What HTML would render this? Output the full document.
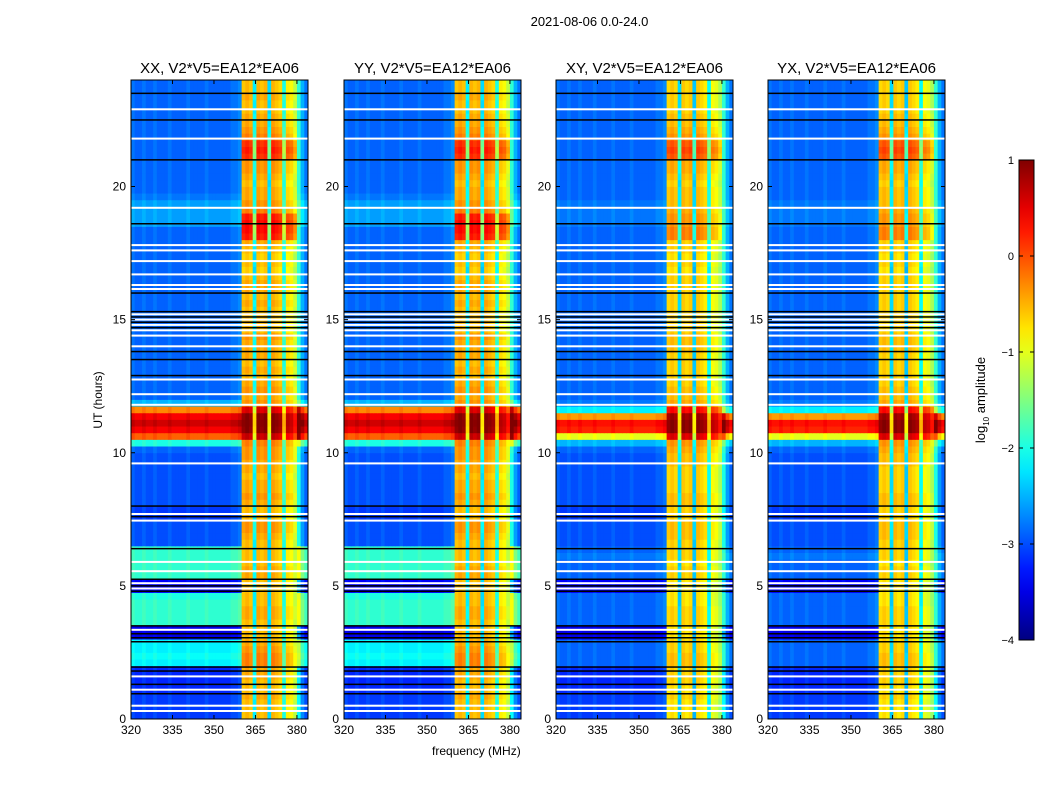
<!DOCTYPE html>
<html><head><meta charset="utf-8">
<style>
body{margin:0;background:#fff;font-family:"Liberation Sans",sans-serif;}
#wrap{position:relative;width:1050px;height:800px;overflow:hidden;}
</style></head>
<body>
<div id="wrap">
<svg id="svg" width="1050" height="800" style="position:absolute;left:0;top:0"></svg>
</div>
<script>
// ---- data ----
const panelTitles = ["XX, V2*V5=EA12*EA06","YY, V2*V5=EA12*EA06","XY, V2*V5=EA12*EA06","YX, V2*V5=EA12*EA06"];
const xTicks = [320,335,350,365,380];
const yTicks = [0,5,10,15,20];
const cbTicks = [1,0,-1,-2,-3,-4];
// background log amplitude per 0.25 h row (parallel hands)
const rowBgPar = [-3.1,-3.1,-3.1,-3.1,-3.2,-3.2,-3.2,-3.2,-2.2,-2.1,-2.2,-2.2,-3.5,-3.5,-1.9,-1.9,-1.9,-1.9,-2.0,-3.4,-3.4,-1.9,-1.9,-1.9,-1.9,-1.9,-3.0,-3.0,-3.0,-3.0,-3.1,-3.1,
-3.0,-3.0,-3.0,-3.0,-3.0,-3.0,-3.0,-3.0,-2.9,-2.0,-0.1,0.4,0.6,0.4,-0.3,-2.5,-2.9,-2.9,-2.9,-2.9,-2.9,-2.9,-2.9,-2.9,-2.9,-2.9,-2.9,-2.9,
-2.9,-2.9,-2.9,-2.9,-2.9,-2.9,-2.9,-2.9,-2.9,-2.9,-2.9,-2.9,-2.9,-2.9,-2.6,-2.6,-2.6,-2.6,-2.8,-2.9,-2.9,-2.9,-2.9,-2.9,-2.9,-2.9,-2.9,-2.9,-2.9,-2.9,-2.9,-2.9,-2.9,-2.9,-2.9,-2.9];
// background per row (cross hands)
const rowBgCross = [-3.1,-3.1,-3.1,-3.1,-3.2,-3.2,-3.2,-3.2,-2.9,-2.9,-2.9,-2.9,-3.5,-3.5,-2.9,-2.9,-2.9,-2.9,-2.9,-3.4,-3.4,-2.9,-2.9,-2.9,-2.8,-2.9,-3.0,-3.0,-3.0,-3.0,-3.1,-3.1,
-3.0,-3.0,-3.0,-3.0,-3.0,-3.0,-3.0,-3.0,-2.9,-2.5,-1.0,0.2,0.3,-0.4,-2.2,-2.8,-2.9,-2.9,-2.9,-2.9,-2.9,-2.9,-2.9,-2.9,-2.9,-2.9,-2.9,-2.9,
-2.9,-2.9,-2.9,-2.9,-2.9,-2.9,-2.9,-2.9,-2.9,-2.9,-2.9,-2.9,-2.9,-2.9,-2.8,-2.8,-2.8,-2.8,-2.9,-2.9,-2.9,-2.9,-2.9,-2.9,-2.9,-2.9,-2.9,-2.9,-2.9,-2.9,-2.9,-2.9,-2.9,-2.9,-2.9,-2.9];
// RFI band level per row
const rowRfiPar = [-0.6,-0.6,-0.6,-0.5,-0.6,-0.6,-0.5,-0.5,-0.3,-0.3,-0.4,-0.5,-0.6,-0.6,-0.6,-0.5,-0.5,-0.6,-0.6,-0.6,-0.6,-0.5,-0.5,-0.6,-0.6,-0.6,-0.6,-0.5,-0.4,-0.4,-0.6,-0.6,
-0.5,-0.4,-0.5,-0.5,-0.6,-0.5,-0.5,-0.4,-0.4,-0.3,0.6,0.9,0.95,0.9,0.5,-0.4,-0.5,-0.4,-0.5,-0.6,-0.5,-0.6,-0.5,-0.5,-0.5,-0.4,-0.6,-0.6,
-0.6,-0.6,-0.5,-0.6,-0.5,-0.5,-0.6,-0.7,-0.6,-0.7,-0.6,-0.5,0.2,0.3,0.3,0.2,-0.3,-0.4,-0.5,-0.5,-0.6,-0.5,-0.4,-0.4,0.1,0.2,0.1,-0.3,-0.4,-0.5,-0.5,-0.6,-0.6,-0.5,-0.6,-0.6];
const rowRfiCross = [-0.8,-0.8,-0.8,-0.7,-0.8,-0.7,-0.7,-0.7,-0.6,-0.6,-0.7,-0.7,-0.8,-0.8,-0.7,-0.7,-0.7,-0.8,-0.8,-0.8,-0.8,-0.7,-0.7,-0.8,-0.7,-0.7,-0.7,-0.6,-0.6,-0.6,-0.7,-0.7,
-0.6,-0.6,-0.7,-0.7,-0.7,-0.7,-0.6,-0.6,-0.5,-0.4,0.5,0.9,0.9,0.8,0.3,-0.5,-0.6,-0.6,-0.7,-0.7,-0.7,-0.7,-0.7,-0.6,-0.6,-0.6,-0.7,-0.7,
-0.7,-0.7,-0.7,-0.7,-0.7,-0.7,-0.7,-0.8,-0.7,-0.8,-0.7,-0.7,-0.3,-0.3,-0.4,-0.4,-0.5,-0.6,-0.6,-0.6,-0.7,-0.6,-0.5,-0.5,-0.1,0.0,-0.1,-0.4,-0.5,-0.6,-0.6,-0.7,-0.7,-0.7,-0.7,-0.7];
// per-frequency-column offsets (48 columns, 1.333 MHz, 320-384 MHz)
const colBg = [0.1,0,0,0.1,0,0,0.1,0,0,0,0.1,0,0,0,0,0.1,0,0,0,0,0.1,0,0,0,0,0,0,0.1,0.1,0.2,0,0,0,0,0,0,0,0,0,0,0,0,0,0,0,1.0,0.4,0.1];
const colRfi = [0,0,0,0,0,0,0,0,0,0,0,0,0,0,0,0,0,0,0,0,0,0,0,0,0,0,0,0,0,0,0,0.1,0,-1.6,0.1,0,0.1,-1.7,0.1,0,-0.1,-1.4,-0.2,-0.3,-0.6,0,0,0];
const isRfiCol = [0,0,0,0,0,0,0,0,0,0,0,0,0,0,0,0,0,0,0,0,0,0,0,0,0,0,0,0,0,0,1,1,1,1,1,1,1,1,1,1,1,1,1,1,1,0,0,0];
// flagged times (hours)
const whiteFlags = [0.3,0.5,1.1,1.6,3.35,4.9,5.1,5.55,5.9,7.45,7.7,9.6,11.8,12.2,12.75,14.0,14.4,14.6,14.8,15.0,15.2,16.15,16.3,16.7,17.2,17.6,17.8,19.2,21.8,22.9];
const blackFlags = [0.95,1.3,1.8,1.95,2.9,3.05,3.2,3.5,4.8,5.0,5.25,6.4,7.6,8.0,12.9,13.5,13.8,14.7,14.9,15.1,15.3,16.0,18.6,21.0,22.5,23.5];

// ---- layout ----
const panelsX = [131,344,556,768];
const pW = 177, pTop = 80, pBot = 719;
const fMin = 320, fMax = 384, tMin = 0, tMax = 24;
const svg = document.getElementById('svg');
const NS = 'http://www.w3.org/2000/svg';
function mk(tag, attrs, parent){const e=document.createElementNS(NS,tag);for(const k in attrs)e.setAttribute(k,attrs[k]);(parent||svg).appendChild(e);return e;}
function jet(v){ // v in [-4,1]
  let t=Math.max(0,Math.min(1,(v+4)/5));
  const f=x=>Math.max(0,Math.min(1,x));
  const r=f(1.5-Math.abs(4*t-3)), g=f(1.5-Math.abs(4*t-2)), b=f(1.5-Math.abs(4*t-1));
  return `rgb(${Math.round(r*255)},${Math.round(g*255)},${Math.round(b*255)})`;
}
const nCols = colBg.length, nRows = rowBgPar.length;
const fStep = (fMax-fMin)/nCols, tStep = (tMax-tMin)/nRows;

panelsX.forEach((px,p)=>{
  const xs = f => px + (f-fMin)/(fMax-fMin)*pW;
  const ys = t => pBot - (t-tMin)/(tMax-tMin)*(pBot-pTop);
  const bg = p<2 ? rowBgPar : rowBgCross;
  const rfi = p<2 ? rowRfiPar : rowRfiCross;
  const g = mk('g',{});
  
  
  for(let r=0;r<nRows;r++){
    for(let c=0;c<nCols;c++){
      const v = isRfiCol[c] ? rfi[r]+colRfi[c] : bg[r]+colBg[c];
      const x0=xs(fMin+c*fStep), x1=xs(fMin+(c+1)*fStep);
      const y0=ys(tMin+(r+1)*tStep), y1=ys(tMin+r*tStep);
      const cell = mk('rect',{x:x0.toFixed(2),y:y0.toFixed(2),width:(x1-x0+0.4).toFixed(2),height:(y1-y0+0.4).toFixed(2),fill:jet(v)},g);
      
      
    }
  }
  whiteFlags.forEach(t=>{
    const l = mk('rect',{x:px,y:(ys(t)-1).toFixed(1),width:pW,height:2,fill:'#fff'},g);
    
    
  });
  blackFlags.forEach(t=>{
    const l = mk('rect',{x:px,y:(ys(t)-0.75).toFixed(1),width:pW,height:1.5,fill:'#000'},g);
    
    
  });
  const fr = mk('rect',{x:px,y:pTop,width:pW,height:pBot-pTop,fill:'none',stroke:'#000','stroke-width':1});
  
  
  const tt = mk('text',{x:px+pW/2,y:73,'text-anchor':'middle','font-size':15,fill:'#000'});
  tt.textContent = panelTitles[p];
  
  
  xTicks.forEach(f=>{
    const x=xs(f);
    mk('line',{x1:x,x2:x,y1:pBot,y2:pBot-4,stroke:'#000'});
    mk('line',{x1:x,x2:x,y1:pTop,y2:pTop+4,stroke:'#000'});
    const t = mk('text',{x:x,y:pBot+15,'text-anchor':'middle','font-size':12});
    t.textContent=f;
    
    
  });
  yTicks.forEach(v=>{
    const y=ys(v);
    mk('line',{x1:px,x2:px+4,y1:y,y2:y,stroke:'#000'});
    mk('line',{x1:px+pW,x2:px+pW-4,y1:y,y2:y,stroke:'#000'});
    const t = mk('text',{x:px-5,y:y+4,'text-anchor':'end','font-size':12});
    t.textContent=v;
    
    
  });
});

// colorbar
const cbX=1019, cbW=15, cbTop=160, cbBot=640;
const cbY = v => cbBot - (v+4)/5*(cbBot-cbTop);
const defs = mk('defs',{});
const grad = mk('linearGradient',{id:'jetg',x1:0,y1:1,x2:0,y2:0},defs);
for(let i=0;i<=20;i++){ mk('stop',{offset:(i/20),'stop-color':jet(-4+5*i/20)},grad); }
const cb = mk('rect',{x:cbX,y:cbTop,width:cbW,height:cbBot-cbTop,fill:'url(#jetg)',stroke:'#000'});


cbTicks.forEach(v=>{
  const y=cbY(v);
  mk('line',{x1:cbX,x2:cbX+4,y1:y,y2:y,stroke:'#000'});
  mk('line',{x1:cbX+cbW,x2:cbX+cbW-4,y1:y,y2:y,stroke:'#000'});
  const t=mk('text',{x:cbX-5,y:y+4,'text-anchor':'end','font-size':11});
  t.textContent = v<0 ? '\u2212'+(-v) : v;
  
  
});
</script>
<div style="position:absolute;left:0;top:14px;width:1179px;text-align:center;font-size:13px">2021-08-06 0.0-24.0</div>
<div style="position:absolute;left:432px;top:744px;font-size:12px">frequency (MHz)</div>
<div style="position:absolute;left:98px;top:400px;font-size:12px;transform:translate(-50%,-50%) rotate(-90deg);white-space:nowrap">UT (hours)</div>
<div style="position:absolute;left:982px;top:400px;font-size:13px;transform:translate(-50%,-50%) rotate(-90deg);white-space:nowrap">log<sub style="font-size:8px">10</sub> amplitude</div>
</body></html>
